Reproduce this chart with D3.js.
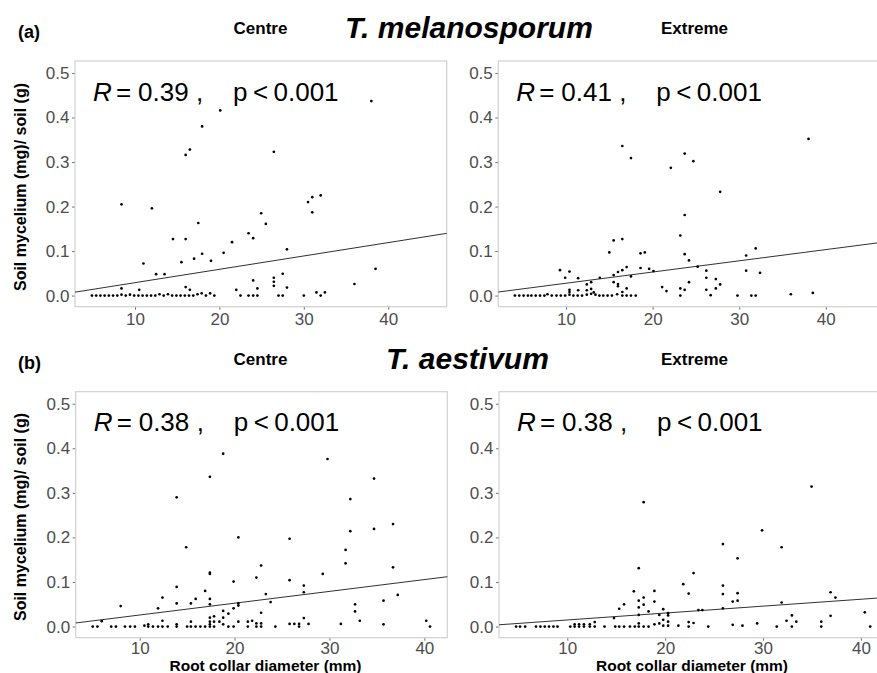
<!DOCTYPE html>
<html><head><meta charset="utf-8">
<script src="https://cdn.jsdelivr.net/npm/d3@7/dist/d3.min.js"></script>
<style>body{margin:0;background:#fff;overflow:hidden}</style>
</head><body>
<svg id="chart" width="877" height="673"></svg>
<script>
// ---------------- data ----------------
const rowLetters = ["(a)", "(b)"];
const speciesNames = ["T. melanosporum", "T. aestivum"];
const positionNames = ["Centre", "Extreme"];
const rValues = ["0.39", "0.41", "0.38", "0.38"];
const pValues = ["0.001", "0.001", "0.001", "0.001"];
const yTicks = [0, 0.1, 0.2, 0.3, 0.4, 0.5];
const xTicks = [10, 20, 30, 40];
const fitIntercepts = [-0.001, 0.0025, -0.0006, -0.0007];
const fitSlopes = [0.003, 0.00252, 0.00265, 0.00155];
const yTitle = "Soil mycelium (mg)/ soil (g)";
const xTitle = "Root collar diameter (mm)";

const melanosporumCentre = [
 [4.9,0],[5.4,0],[5.9,0],[6.4,0],[6.9,0],[7.4,0],[7.9,0],[8.4,0.002],[8.9,0],[9.4,0.002],[9.9,0],[10.4,0],[10.9,0],[11.4,0],[11.9,0],
 [12.4,0],[12.9,0.003],[13.4,0],[13.9,0.003],[14.4,0],[14.9,0],[15.4,0],[15.9,0],[16.4,0],[16.9,0],[17.4,0.003],[17.9,0.005],[18.4,0],[18.9,0.005],[19.4,0],
 [8.4,0.016],[8.4,0.205],[10.5,0.013],[11.0,0.072],[12.0,0.196],[12.5,0.048],[13.5,0.048],[14.5,0.127],[15.5,0.075],[16.0,0.127],
 [16.0,0.316],[16.5,0.328],[16.0,0.019],[16.5,0.013],[17.0,0.083],[17.5,0.163],[17.95,0.38],[17.95,0.094],[19.0,0.078],[20.1,0.416],
 [20.5,0.096],[21.5,0.12],[22.0,0.013],[22.5,0],[23.45,0],[23.45,0.14],[24.0,0.129],[24.95,0.185],[25.5,0.161],[26.45,0.323],
 [28.0,0.104],[30.5,0.21],[31.0,0.221],[32.0,0.225],[31.0,0.187],[38.0,0.437],[38.5,0.06],[36.0,0.026],[24.0,0.034],[24.5,0.016],
 [26.45,0.04],[26.45,0.031],[26.45,0.022],[27.5,0.049],[28.0,0.018],[24.0,0],[24.5,0],[27.0,0],[27.5,0],[30.0,0],[31.5,0.007],[32.0,0],[32.5,0.007]
];
const melanosporumExtreme = [
 [4.1,0],[4.6,0],[5.1,0],[5.6,0],[6.0,0],[6.5,0],[7.0,0],[7.5,0],[7.85,0.003],[8.35,0],[8.9,0],[9.4,0],[9.9,0],[10.4,0.002],[10.85,0],
 [11.35,0],[11.85,0],[12.4,0.002],[12.9,0.004],[13.4,0.002],[13.85,0],[14.3,0],[14.8,0],[15.3,0],[15.9,0.003],[16.5,0],[17.0,0],[17.5,0],[18.05,0],
 [9.3,0.057],[9.9,0.04],[10.4,0.054],[11.4,0.039],[10.4,0.013],[10.4,0.008],[11.4,0.012],[12.4,0.025],[12.4,0.012],[12.9,0.03],
 [12.9,0.015],[13.2,0.007],[13.9,0.04],[15.0,0.097],[15.5,0.124],[15.5,0.046],[15.5,0.03],[16.0,0.053],[16.0,0.026],[16.0,0.021],
 [16.5,0.127],[16.5,0.336],[16.5,0.057],[16.5,0.008],[17.0,0.064],[17.0,0.016],[17.5,0.309],[17.5,0.043],[18.6,0.095],[19.1,0.097],
 [18.6,0.062],[19.6,0.06],[20.1,0.055],[21.1,0.019],[21.6,0.01],[22.1,0.287],[23.7,0.319],[24.7,0.302],[23.7,0.181],[23.2,0.135],
 [23.7,0.093],[24.2,0.079],[25.2,0.065],[27.8,0.233],[26.2,0.056],[26.2,0.04],[27.3,0.037],[27.8,0.025],[27.3,0.016],[26.2,0.013],
 [26.7,0.001],[24.2,0.03],[23.7,0.013],[23.2,0.016],[23.2,0],[29.8,0],[30.8,0.09],[31.9,0.106],[30.8,0.056],[32.4,0.051],
 [31.4,0],[31.9,0],[35.96,0.003],[38.5,0.006],[38.0,0.352]
];
const aestivumCentre = [
 [5.05,0],[5.55,0],[6.0,0.012],[7.0,0],[7.5,0],[8.0,0.046],[8.45,0],[9.0,0],[9.5,0],[10.5,0.002],[10.9,0.005],[10.9,0],[11.4,0],
 [11.94,0.041],[11.94,0],[12.4,0.065],[12.4,0.013],[12.4,0],[12.96,0],[13.9,0.089],[13.9,0.052],[13.9,0.29],[13.9,0.005],[13.9,0],
 [14.9,0.178],[15.0,0],[15.4,0.052],[15.4,0.011],[15.4,0],[15.9,0.062],[15.9,0],[16.4,0],[16.9,0.08],[16.9,0],[17.4,0.336],
 [17.4,0.121],[17.4,0.118],[17.4,0.062],[17.4,0.05],[17.4,0.02],[17.4,0.011],[17.4,0.005],[17.4,0],[17.84,0.023],[17.84,0.011],
 [17.84,0],[18.4,0.011],[18.8,0.388],[18.8,0.035],[18.8,0.02],[18.8,0.005],[19.35,0.029],[19.35,0],[19.9,0.101],[19.9,0.041],
 [19.9,0],[20.4,0.2],[20.4,0.052],[20.4,0.047],[20.4,0.011],[21.4,0.011],[21.4,0],[21.85,0.013],[22.3,0.11],[22.3,0.007],[22.3,0],
 [22.8,0.137],[22.8,0.031],[22.8,0.007],[22.8,0],[23.3,0.073],[23.8,0.055],[24.3,0],[25.8,0.006],[25.8,0.197],[25.8,0.104],
 [26.3,0.006],[26.8,0.006],[26.8,0],[27.3,0.092],[27.3,0.077],[27.3,0.019],[27.8,0.006],[29.3,0.118],[29.8,0.376],[31.2,0.006],
 [31.7,0.172],[31.7,0.142],[32.2,0.286],[32.2,0.214],[32.7,0.05],[32.7,0.034],[33.2,0.013],[34.7,0.332],[34.7,0.219],[35.7,0.058],
 [35.7,0.005],[36.7,0.23],[36.7,0.133],[37.2,0.071],[40.2,0.013],[40.6,0]
];
const aestivumExtreme = [
 [4.77,0],[5.17,0],[5.69,0],[6.8,0],[7.25,0],[7.7,0],[8.13,0],[8.58,0],[9.0,0],[10.3,0],[10.75,0.005],[10.75,0],[11.2,0.005],
 [11.2,0],[11.7,0.005],[11.7,0],[12.3,0.005],[12.3,0],[12.8,0.01],[12.8,0],[13.8,0],[14.77,0.019],[14.9,0],[15.3,0],[15.8,0],
 [16.4,0],[16.9,0],[15.3,0.04],[15.8,0.05],[16.8,0.079],[17.3,0.131],[17.3,0.058],[17.3,0.043],[17.3,0.026],[17.3,0.007],[17.3,0],
 [17.8,0.065],[17.8,0.049],[17.8,0.279],[17.8,0],[18.3,0.034],[18.3,0],[18.9,0.08],[18.9,0.056],[18.9,0.005],[19.4,0.026],
 [19.4,0.007],[19.8,0.039],[19.8,0.015],[19.8,0.002],[20.3,0.03],[20.3,0.025],[20.3,0.011],[20.3,0.002],[21.35,0.002],[21.85,0.095],
 [22.4,0.074],[22.9,0.12],[22.4,0.01],[22.4,0],[22.9,0.008],[23.4,0.037],[23.8,0.037],[24.4,0],[25.9,0.185],[25.9,0.092],
 [25.9,0.073],[25.9,0.041],[26.9,0.056],[26.9,0.004],[27.4,0.153],[27.4,0.075],[27.4,0.058],[27.9,0.002],[29.4,0.007],[29.9,0.216],
 [31.4,0],[31.9,0.178],[31.9,0.054],[32.4,0.013],[32.95,0.025],[32.95,0],[33.4,0.011],[34.96,0.314],[35.95,0.011],[35.95,0],
 [36.9,0.077],[36.9,0.024],[37.4,0.065],[40.4,0.032],[40.95,0]
];
const panelData = [melanosporumCentre, melanosporumExtreme, aestivumCentre, aestivumExtreme];

// ---------------- layout ----------------
const layout = [
  {left: 75,    right: 446.7, top: 61,    bottom: 306.7, xDom: [2.89, 46.93], pad: 3},
  {left: 498.3, right: 879,   top: 61,    bottom: 306.7, xDom: [2.18, 46.14], pad: 3},
  {left: 75.7,  right: 447.3, top: 391.7, bottom: 637.7, xDom: [3.26, 42.42], pad: 1},
  {left: 499,   right: 879,   top: 391.7, bottom: 637.7, xDom: [3.02, 41.85], pad: 1}
];
const yDom = [-0.025, 0.527];
const FONT = "'Liberation Sans', Arial, Helvetica, sans-serif";

const svg = d3.select("#chart");
svg.append("rect").attr("width", 877).attr("height", 673).attr("fill", "#fff");

layout.forEach((L, i) => {
  const data = panelData[i];
  const x = d3.scaleLinear().domain(L.xDom).range([L.left, L.right]);
  const y = d3.scaleLinear().domain(yDom).range([L.bottom, L.top]);
  const g = svg.append("g");

  // y axis
  const ya = g.append("g").attr("transform", `translate(${L.left},0)`)
    .call(d3.axisLeft(y).tickValues(yTicks).tickFormat(d3.format(".1f")).tickSize(3).tickPadding(2.5));
  ya.select(".domain").remove();
  ya.selectAll("line").attr("stroke", "#4d4d4d").attr("stroke-width", 0.8);
  ya.selectAll("text").attr("fill", "#4d4d4d").style("font-family", FONT).style("font-size", "17px");

  // x axis
  const xa = g.append("g").attr("transform", `translate(0,${L.bottom})`)
    .call(d3.axisBottom(x).tickValues(xTicks).tickFormat(d3.format("d")).tickSize(3).tickPadding(L.pad));
  xa.select(".domain").remove();
  xa.selectAll("line").attr("stroke", "#4d4d4d").attr("stroke-width", 0.8);
  xa.selectAll("text").attr("fill", "#4d4d4d").style("font-family", FONT).style("font-size", "17px");

  // border
  g.append("rect").attr("x", L.left).attr("y", L.top)
    .attr("width", L.right - L.left).attr("height", L.bottom - L.top)
    .attr("fill", "none").attr("stroke", "#d0d0d0").attr("stroke-width", 1.2);

  // fit line
  const xs = L.xDom;
  g.append("line")
    .attr("x1", x(xs[0])).attr("y1", y(fitIntercepts[i] + fitSlopes[i] * xs[0]))
    .attr("x2", x(xs[1])).attr("y2", y(fitIntercepts[i] + fitSlopes[i] * xs[1]))
    .attr("stroke", "#1a1a1a").attr("stroke-width", 0.9);

  // points
  g.append("g").selectAll("circle").data(data).join("circle")
    .attr("cx", d => x(d[0])).attr("cy", d => y(d[1])).attr("r", 1.35).attr("fill", "#000");

  // stat label
  const t = g.append("text").attr("y", L.top + 39.7)
    .style("font-family", FONT).style("font-size", "26px").attr("fill", "#000");
  t.append("tspan").attr("x", L.left + 18).style("font-style", "italic").text("R");
  t.append("tspan").attr("x", L.left + 41).text("=");
  t.append("tspan").attr("x", L.left + 63).text(rValues[i]);
  t.append("tspan").attr("x", L.left + 121).text(",");
  t.append("tspan").attr("x", L.left + 158).text("p");
  t.append("tspan").attr("x", L.left + 178).text("<");
  t.append("tspan").attr("x", L.left + 198.5).text(pValues[i]);
});

// headers
[0, 1].forEach(r => {
  const off = r * 330.7;
  svg.append("text").attr("x", 18).attr("y", 38 + off).text(rowLetters[r])
    .style("font-family", FONT).style("font-weight", "bold").style("font-size", "18px");
  svg.append("text").attr("x", 260.5).attr("y", 34.3 + off).attr("text-anchor", "middle").text(positionNames[0])
    .style("font-family", FONT).style("font-weight", "bold").style("font-size", "17px");
  svg.append("text").attr("x", 694.5).attr("y", 34.3 + off).attr("text-anchor", "middle").text(positionNames[1])
    .style("font-family", FONT).style("font-weight", "bold").style("font-size", "17px");
  svg.append("text").attr("x", 345 + (r === 1 ? 41 : 0)).attr("y", 38.3 + off).text(speciesNames[r])
    .style("font-family", FONT).style("font-weight", "bold").style("font-style", "italic").style("font-size", "30px");
  // y title
  const cy = r === 0 ? 187 : 517;
  svg.append("text").attr("transform", `translate(26,${cy}) rotate(-90)`).attr("text-anchor", "middle")
    .text(yTitle).style("font-family", FONT).style("font-weight", "bold").style("font-size", "16px");
});
// x titles
[layout[2], layout[3]].forEach((L, k) => {
  const cx = k === 0 ? 265.5 : 692;
  svg.append("text").attr("x", cx).attr("y", 671).attr("text-anchor", "middle").text(xTitle)
    .style("font-family", FONT).style("font-weight", "bold").style("font-size", "15.5px");
});
</script>
</body></html>
